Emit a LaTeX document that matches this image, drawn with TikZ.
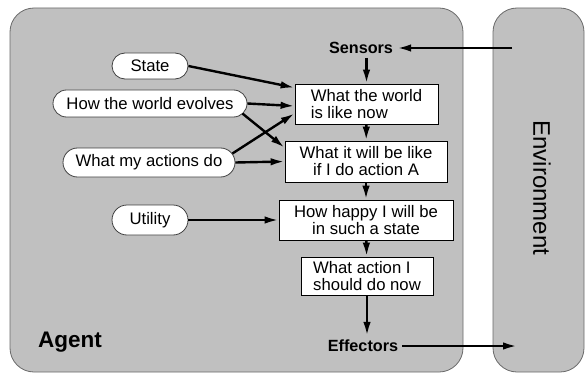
\documentclass[tikz,border=0pt]{standalone}
\usepackage{fontspec}
\setmainfont{Liberation Sans}
\usetikzlibrary{arrows.meta,shapes.misc,calc}
\definecolor{panel}{RGB}{192,192,192}
\definecolor{rim}{RGB}{105,105,105}
\begin{document}
\begin{tikzpicture}[x=1pt,y=-1pt,
  panelbox/.style={fill=panel,draw=rim,line width=0.8pt,rounded corners=24pt},
  stepbox/.style={draw=black,fill=white,line width=0.8pt,inner sep=0pt,
    font=\fontsize{16.7}{17}\selectfont},
  knowledge/.style={rounded rectangle,draw=black!75,fill=white,line width=0.8pt,
    inner sep=0pt,font=\fontsize{16.7}{17}\selectfont},
  port/.style={font=\bfseries\fontsize{16.2}{17}\selectfont,inner sep=4pt},
  flow/.style={line width=2.4pt,-{Latex[length=14pt,width=7.5pt]}}
]
\useasboundingbox (0,0) rectangle (585,374);

% agent and environment panels
\draw[panelbox] (10,8) rectangle (463,372);
\draw[panelbox] (493,8) rectangle (584,372);
\node[anchor=base west,font=\bfseries\fontsize{22.5}{24}\selectfont,inner sep=0pt]
  (agent) at (38,347) {Agent};
\node[rotate=-90,font=\fontsize{24}{26}\selectfont,inner sep=0pt]
  (environment) at (542,188) {Environment};

% sensor and effector ports
\node[port] (sensors) at (361,48) {Sensors};
\node[port] (effectors) at (363,346) {Effectors};
\coordinate (percept) at (512,48);
\coordinate (act) at (517,346);

% decision chain
\node[stepbox,minimum width=143pt,minimum height=40pt,align=left]
  (world) at (366.5,104) {What the world\\is like now};
\node[stepbox,minimum width=162pt,minimum height=41pt,align=center]
  (future) at (366,161.5) {What it will be like\\if I do action A};
\node[stepbox,minimum width=174pt,minimum height=40pt,align=center]
  (happy) at (366,220) {How happy I will be\\in such a state};
\node[stepbox,minimum width=132pt,minimum height=38pt,align=left]
  (choice) at (367,276) {What action I\\should do now};

% internal knowledge
\node[knowledge,minimum width=76pt,minimum height=26pt] (state) at (150,66) {State};
\node[knowledge,minimum width=194pt,minimum height=27pt] (evolves) at (150,103.5) {How the world evolves};
\node[knowledge,minimum width=172pt,minimum height=29pt] (actions) at (149,162.5) {What my actions do};
\node[knowledge,minimum width=76pt,minimum height=30pt] (utility) at (150,220) {Utility};

% connectors
\draw[flow] (percept) -- (sensors.east);
\draw[flow] (effectors.east) -- (act);
\draw[flow] (sensors.south -| world.north) -- (world.north);
\draw[flow] (world) -- (future);
\draw[flow] (future) -- (happy);
\draw[flow] (happy) -- (choice);
\draw[flow] (choice.south) -- (effectors.north -| choice.south);

\draw[flow] (state.east) -- ($(world.north west)!0.1!(world.south west)$);
\draw[flow] (evolves.east) -- ($(world.north west)!0.55!(world.south west)$);
\draw[flow] ($(evolves.east)+(-5,10)$) -- ($(future.north west)!0.17!(future.south west)$);
\draw[flow] ($(actions.east)+(-3,-9)$) -- ($(world.north west)!0.73!(world.south west)$);
\draw[flow] (actions.east) -- (future.west);
\draw[flow] (utility.east) -- (happy.west);
\end{tikzpicture}
\end{document}
